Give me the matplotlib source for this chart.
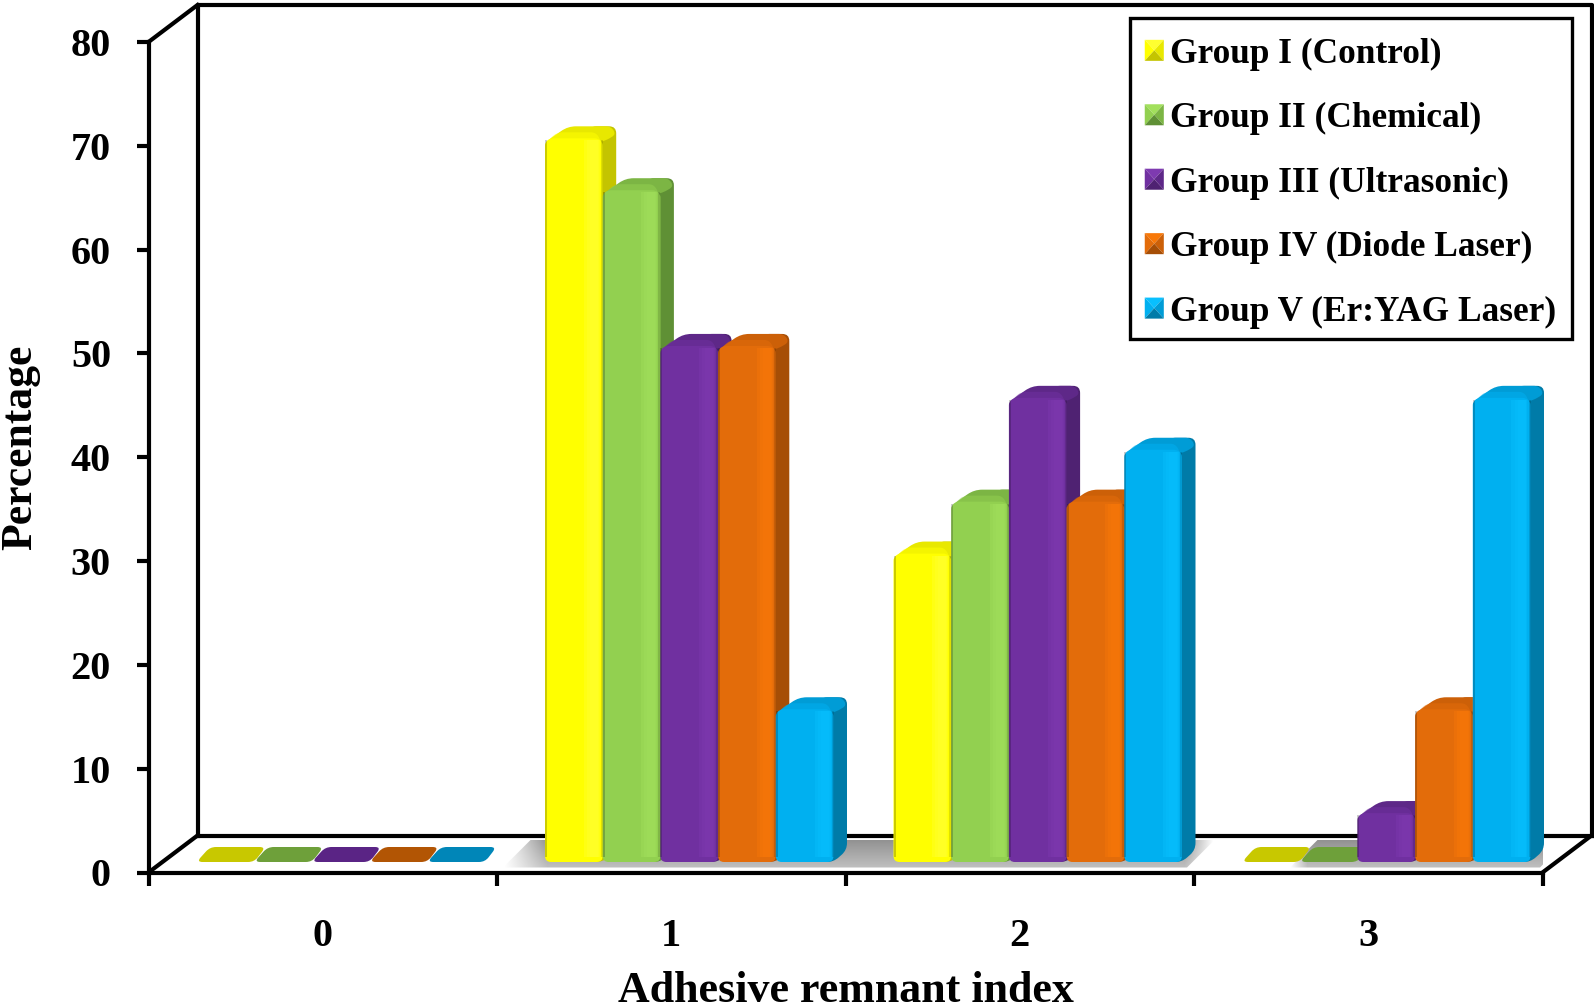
import numpy as np
import matplotlib
matplotlib.use("Agg")
import matplotlib.pyplot as plt
from matplotlib.path import Path
from matplotlib.patches import PathPatch, Polygon, Patch
from matplotlib.legend_handler import HandlerBase

plt.rcParams["font.family"] = ["Liberation Serif", "DejaVu Serif"]
plt.rcParams["font.weight"] = "bold"
plt.rcParams["axes.labelweight"] = "bold"

# data
ari_scores = ["0", "1", "2", "3"]
group_names = ["Group I (Control)", "Group II (Chemical)", "Group III (Ultrasonic)",
               "Group IV (Diode Laser)", "Group V (Er:YAG Laser)"]
group_1 = [0, 70, 30, 0]
group_2 = [0, 65, 35, 0]
group_3 = [0, 50, 45, 5]
group_4 = [0, 50, 35, 15]
group_5 = [0, 15, 40, 45]
series = [group_1, group_2, group_3, group_4, group_5]

# face, top, side, flat (zero bar), highlight
colors = [
    ("#FFFF00", "#E8E800", "#C4C400", "#C8C800", "#FFFF30"),
    ("#92D050", "#7CB544", "#5F9035", "#6EA03A", "#A2E05C"),
    ("#7030A0", "#5E2888", "#4F2272", "#5A2485", "#7E3AB0"),
    ("#E36C0A", "#CC6008", "#A64E06", "#B25504", "#F87808"),
    ("#00B0F0", "#009CD6", "#007BA8", "#0086B8", "#08C0FF"),
]

W, H = 1594, 1008
L, R, B, T = 148.5, 1542.5, 872.5, 42.0  # axes box in pixels
LW = 3.0
LEG_SHIFT = 4.6  # legend rows sit this many pixels lower than the frame padding gives

fig = plt.figure(figsize=(W / 100, H / 100), dpi=100)
ax = fig.add_axes([L / W, 1 - B / H, (R - L) / W, (B - T) / H])
ax.set_xlim(-0.5, 3.5)
ax.set_ylim(0, 80)

xu = (R - L) / 4   # pixels per category
yu = (B - T) / 80  # pixels per percent
wall_dx, wall_dy = 49 / (R - L), 37 / (B - T)


def rounded(points, radius):
    # closed path through data points, corners rounded by radius pixels
    pts = np.array(points, dtype=float) * [xu, yu]
    verts, codes = [], []
    n = len(pts)
    for i in range(n):
        p, a, b = pts[i], pts[i - 1], pts[(i + 1) % n]
        r = min(radius, np.linalg.norm(a - p) / 2, np.linalg.norm(b - p) / 2)
        p1 = p + (a - p) / np.linalg.norm(a - p) * r
        p2 = p + (b - p) / np.linalg.norm(b - p) * r
        verts.append(p1)
        codes.append(Path.MOVETO if i == 0 else Path.LINETO)
        verts += [p, p2]
        codes += [Path.CURVE3, Path.CURVE3]
    verts.append(verts[0])
    codes.append(Path.CLOSEPOLY)
    return Path(np.array(verts) / [xu, yu], codes)


def add(points, color, z, radius=0, alpha=1):
    if radius:
        patch = PathPatch(rounded(points, radius), fc=color, ec="none", zorder=z, alpha=alpha, clip_on=False)
    else:
        patch = Polygon(points, closed=True, fc=color, ec="none", zorder=z, alpha=alpha, clip_on=False)
    ax.add_patch(patch)


def strip(px0, px1, y0, y1, color, z, alpha):
    add([(px0, y0), (px1, y0), (px1, y1), (px0, y1)], color, z, alpha=alpha)


def draw_bar(x0, val, cols, z):
    face, top, side, flat, light = cols
    w = 57.7 / xu
    base = 10.5 / yu
    dx, dy = 13.5 / xu, 12 / yu
    x1 = x0 + w
    if val == 0:
        add([(x0, base), (x1, base), (x1 + 0.85 * dx, base + 15 / yu), (x0 + dx, base + 15 / yu)], flat, z, 6)
        return
    yt = base + val
    front = yt - 7 / yu
    back = yt + 9 / yu
    # side
    add([(x1 - dx, base), (x1, base), (x1 + dx, base + dy), (x1 + dx, back),
         (x1 - dx, back)], side, z, 7)
    # top
    add([(x0, front), (x0 + 1.7 * dx, back), (x1 + 0.6 * dx, back), (x1 + dx, back - 8 / yu),
         (x1, front)], top, z + 0.1, 8)
    # lighter strip at the front of the top
    add([(x0 + 1 / xu, front), (x0 + 0.9 * dx, back - 6 / yu), (x1 - 0.5 * dx, back - 6 / yu), (x1 - 1 / xu, front)],
        face, z + 0.15, 5, alpha=0.55)
    # face
    add([(x0, base), (x1, base), (x1, front), (x1 - 5 / xu, front + 4 / yu),
         (x0 + 5 / xu, front + 4 / yu), (x0, front)], face, z + 0.2, 6)
    # shading on the face
    y_low, y_high = base + 5 / yu, front + 2 / yu
    strip(x0, x0 + 2 / xu, y_low, y_high, "black", z + 0.3, 0.2)
    strip(x1 - 2 / xu, x1, y_low, y_high, "black", z + 0.3, 0.12)
    for a, b in [(19, 3), (16, 4), (13, 5)]:
        strip(x1 - a / xu, x1 - b / xu, y_low, y_high, light, z + 0.3, 0.4)


def draw_shadow(px0, px1):
    # grey floor shadow, fading at both ends and towards the front
    n = 200
    fade = np.minimum(np.linspace(0, 1, n) / 0.06, np.linspace(1, 0, n) / 0.04).clip(0, 1)
    depth = np.linspace(0.85, 0.5, 20)[:, None]
    img = np.zeros((20, n, 4))
    img[..., :3] = 0.5
    img[..., 3] = fade * depth
    x0, x1 = -0.5 + (px0 - L) / xu, -0.5 + (px1 - L) / xu
    y0, y1 = 5 / yu, 33 / yu
    im = ax.imshow(img, extent=(x0, x1, y0, y1), aspect="auto", interpolation="bilinear", zorder=1.5)
    slant = 28 / xu
    clip = Polygon([(x0, y0), (x1 - slant, y0), (x1, y1), (x0 + slant, y1)], transform=ax.transData)
    im.set_clip_path(clip)


class BevelHandler(HandlerBase):
    # small square with four shaded triangles, like the chart's legend keys
    def __init__(self, cols):
        super().__init__()
        self.cols = cols

    def create_artists(self, legend, orig_handle, xdescent, ydescent, width, height, fontsize, trans):
        face, top, side, flat, light = self.cols
        x0, y0 = -xdescent - 0.3, -ydescent - LEG_SHIFT * 0.72
        x1, y1 = x0 + width, y0 + height
        cx, cy = (x0 + x1) / 2, (y0 + y1) / 2
        tris = [([(x0, y1), (x1, y1), (cx, cy)], light),
                ([(x0, y0), (x0, y1), (cx, cy)], face),
                ([(x1, y0), (x1, y1), (cx, cy)], top),
                ([(x0, y0), (x1, y0), (cx, cy)], side)]
        return [Polygon(p, closed=True, fc=c, ec="none", transform=trans) for p, c in tris]


# back wall and floor edges
wall = dict(color="black", lw=LW, transform=ax.transAxes, clip_on=False, zorder=1, solid_capstyle="projecting")
xb0, xb1 = wall_dx, 1 + wall_dx
yb0, yb1 = wall_dy, 1 + wall_dy
ax.plot([xb0, xb0, xb1, xb1], [yb0, yb1, yb1, yb0], **wall)
ax.plot([xb0, xb1], [yb0, yb0], **wall)
ax.plot([0, xb0], [1, yb1], **wall)
ax.plot([0, xb0], [0, yb0], **wall)
ax.plot([1, xb1], [0, yb0], **wall)

draw_shadow(503, 1215)
draw_shadow(1290, 1568)

# bars
bar_w = 57.7 / xu
start = 48 / xu
for j, values in enumerate(series):
    for i, v in enumerate(values):
        draw_bar(i - 0.5 + start + j * bar_w, v, colors[j], 3 + i + j * 0.5 if v else 2)

ax.set_xlim(-0.5, 3.5)
ax.set_ylim(0, 80)

# axes
for s in ["top", "right"]:
    ax.spines[s].set_visible(False)
for s in ["left", "bottom"]:
    ax.spines[s].set_linewidth(LW)
ax.patch.set_alpha(0)
ax.set_yticks(range(0, 81, 10))
ax.set_xticks([-0.5, 0.5, 1.5, 2.5, 3.5])
ax.set_xticklabels([])
ax.set_xticks([0, 1, 2, 3], labels=ari_scores, minor=True)
ax.tick_params(axis="both", which="major", length=9, width=LW, labelsize=29, pad=4)
ax.tick_params(axis="y", which="major", pad=18)
ax.tick_params(axis="x", which="minor", length=0, labelsize=29, pad=33)
ax.set_xlabel("Adhesive remnant index", fontsize=31.7, va="center")
ax.set_ylabel("Percentage", fontsize=31.5, va="center")
ax.xaxis.set_label_coords(0.5, -(991 - B) / (B - T))
ax.yaxis.set_label_coords((20 - L) / (R - L), (B - 447) / (B - T))

# legend
handles = [Patch(label=n) for n in group_names]
handler_map = {h: BevelHandler(c) for h, c in zip(handles, colors)}
leg = ax.legend(handles=handles, handler_map=handler_map, loc="upper left",
                bbox_to_anchor=(1130 / W, 1 - 18 / H), bbox_transform=fig.transFigure,
                fontsize=25.4, frameon=True, fancybox=False, framealpha=1, edgecolor="black",
                borderaxespad=0, borderpad=0.43, labelspacing=0.89,
                handlelength=0.54, handleheight=0.54, handletextpad=0.17)
leg.get_frame().set_linewidth(2.4)
leg.set_zorder(20)
for t in leg.get_texts():
    t.set_y(-LEG_SHIFT)

fig.savefig("out.png", dpi=100)
